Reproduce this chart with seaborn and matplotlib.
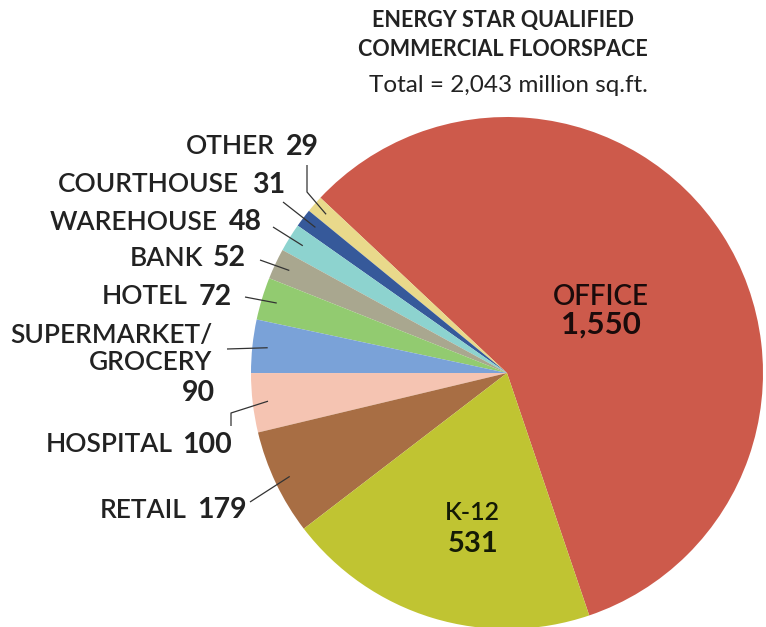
import matplotlib

matplotlib.use("Agg")
import matplotlib.pyplot as plt
import numpy as np
import seaborn as sns

# data (million sq.ft.)
CATEGORIES = ["OFFICE", "OTHER", "COURTHOUSE", "WAREHOUSE", "BANK", "HOTEL",
              "SUPERMARKET/\nGROCERY", "HOSPITAL", "RETAIL", "K-12"]
VALUES = [1550, 29, 31, 48, 52, 72, 90, 100, 179, 531]
COLORS = ["#cd5a4b", "#e9d98b", "#36599a", "#8dd3cf", "#a9a78f", "#92cb70",
          "#7aa2d8", "#f5c4b2", "#a86e44", "#c0c432"]

TITLE = "ENERGY STAR QUALIFIED\nCOMMERCIAL FLOORSPACE"
SUBTITLE = "Total = 2,043 million sq.ft."

W, H = 766, 627
CX, CY, R = 507, 373, 256  # pixel coords, y from top


def py(y):
    # pixel-from-top -> axes data y
    return H - y


sns.set_theme(style="white")
plt.rcParams["font.family"] = ["Lato", "DejaVu Sans"]

fig = plt.figure(figsize=(W / 100, H / 100), dpi=100)
ax = fig.add_axes([0, 0, 1, 1])

wedges, _ = ax.pie(
    VALUES,
    colors=sns.color_palette(COLORS),
    startangle=-71.26,
    counterclock=True,
    center=(CX, py(CY)),
    radius=R,
    wedgeprops=dict(linewidth=0),
    frame=False,
)
ax.set_xlim(0, W)
ax.set_ylim(0, H)
ax.set_aspect("equal")
ax.axis("off")

ink = "#222222"
name_size, num_size = 19, 20.5
name_w = "semibold"

# outside labels: (index, name right edge x, number left x, y, leader path)
outside = {
    1: (275, 286, 147, [(307, 165), (307, 192)]),
    2: (239, 252, 185, [(283, 202)]),
    3: (218, 229, 222, [(273, 227)]),
    4: (203, 213, 258, [(260, 260)]),
    5: (188, 199, 297, [(245, 297)]),
    7: (173, 182, 445, [(231, 426), (231, 413)]),
    8: (187, 197, 510, [(250, 502)]),
}

for i, (xr, xn, y, path) in outside.items():
    ax.text(xr, py(y), CATEGORIES[i], ha="right", va="center",
            fontsize=name_size, fontweight=name_w, color=ink)
    ax.text(xn, py(y), f"{VALUES[i]:,}", ha="left", va="center",
            fontsize=num_size, fontweight="bold", color=ink)

# supermarket label is stacked
ax.text(213, py(335), "SUPERMARKET/", ha="right", va="center",
        fontsize=name_size, fontweight=name_w, color=ink)
ax.text(212, py(363), "GROCERY", ha="right", va="center",
        fontsize=name_size, fontweight=name_w, color=ink)
ax.text(215, py(393), f"{VALUES[6]:,}", ha="right", va="center",
        fontsize=num_size, fontweight="bold", color=ink)
outside_paths = {i: v[3] for i, v in outside.items()}
outside_paths[6] = [(227, 349)]

# leader lines end inside the wedge at its mid angle
for i, path in outside_paths.items():
    w = wedges[i]
    mid = np.deg2rad((w.theta1 + w.theta2) / 2)
    ex = CX + 0.94 * R * np.cos(mid)
    ey = py(CY) + 0.94 * R * np.sin(mid)
    xs = [p[0] for p in path] + [ex]
    ys = [py(p[1]) for p in path] + [ey]
    ax.plot(xs, ys, color="#333333", lw=0.9, solid_capstyle="butt")

# inside labels
ax.text(601, py(297), "OFFICE", ha="center", va="center", fontsize=20,
        fontweight=name_w, color="#1a0b0b")
ax.text(601, py(325), f"{VALUES[0]:,}", ha="center", va="center",
        fontsize=22.5, fontweight="bold", color="#1a0b0b")
ax.text(472, py(512), "K-12", ha="center", va="center", fontsize=18,
        fontweight=name_w, color="#141a05")
ax.text(473, py(544), f"{VALUES[9]:,}", ha="center", va="center",
        fontsize=21, fontweight="bold", color="#141a05")

ax.text(503, py(21), TITLE.split("\n")[0], ha="center", va="center", fontsize=15.5,
        fontweight="bold", color=ink)
ax.text(503, py(50), TITLE.split("\n")[1], ha="center", va="center", fontsize=15.5,
        fontweight="bold", color=ink)
ax.text(508, py(85), SUBTITLE, ha="center", va="center", fontsize=17.5,
        fontweight="normal", color=ink)

fig.savefig("out.png", dpi=100, facecolor="white")
